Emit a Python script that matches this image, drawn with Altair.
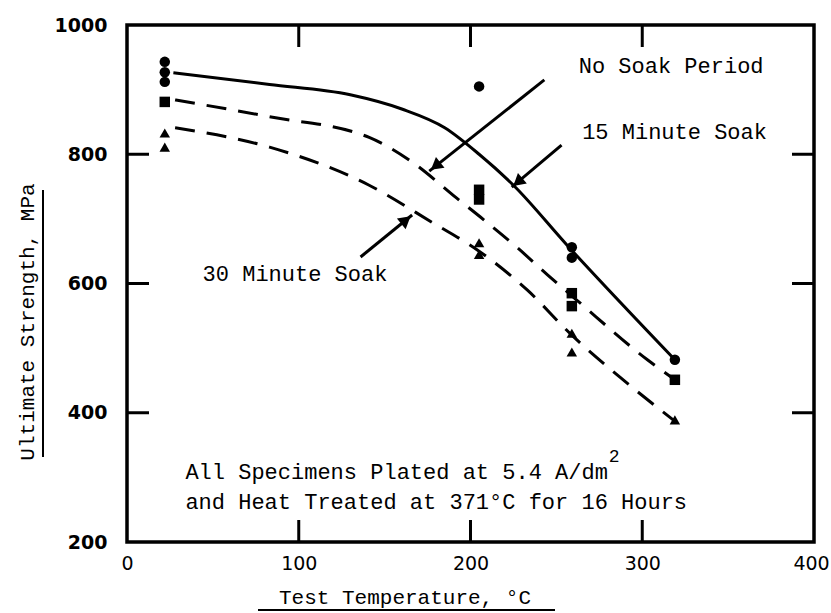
import math
import altair as alt
import pandas as pd

# ---- measured points (Test temperature °C, Ultimate strength MPa) ----
pt15_t = [22, 22, 22, 205, 259, 259, 319]
pt15_s = [943, 927, 912, 905, 656, 640, 482]
ptno_t = [22, 205, 205, 259, 259, 319]
ptno_s = [881, 745, 730, 585, 565, 451]
pt30_t = [22, 22, 205, 205, 259, 259, 319]
pt30_s = [833, 811, 663, 645, 523, 494, 389]

# ---- faired curves ----
c15_t = [27, 83, 130, 160, 185, 205, 225, 256, 319]
c15_s = [926, 908, 892, 870, 841, 800, 752, 660, 482]
cno_t = [28, 83, 141, 166, 192, 208, 227, 245, 262, 303, 319]
cno_s = [884, 858, 826, 788, 732, 698, 656, 613, 574, 482, 451]
c30_t = [28, 83, 141, 178, 205, 233, 259, 287, 318]
c30_s = [841, 811, 752, 694, 650, 590, 520, 455, 389]

# ---- annotations ----
label_text = ["No Soak Period", "15 Minute Soak", "30 Minute Soak"]
label_t = [263, 265, 44]
label_s = [937, 834, 615]
arrow_t1 = [243, 253, 136]
arrow_s1 = [915, 814, 641]
arrow_t2 = [176, 224, 166]
arrow_s2 = [774, 749, 706]

note_text = ["All Specimens Plated at 5.4 A/dm",
             "and Heat Treated at 371°C for 16 Hours"]
note_t = [34, 34]
note_s = [308, 262]
sup_text = ["2"]

x_ticks = [0, 100, 200, 300, 400]
y_ticks = [200, 400, 600, 800, 1000]
x_inner = [100, 200, 300]
y_inner = [400, 600, 800]

W, H = 687, 517
MONO = "Liberation Mono"
NOTE_FS = 22

xs = alt.Scale(domain=[0, 400], nice=False, zero=False)
ys = alt.Scale(domain=[200, 1000], nice=False, zero=False)
xaxis = alt.Axis(values=x_ticks, domain=False, ticks=False, grid=False, title=None,
                 labelFont="DejaVu Sans", labelFontSize=19, labelColor="black",
                 labelPadding=12, labelFlush=False, labelOverlap=False, labelBound=False,
                 labelOffset={"condition": {"test": "datum.value >= 400", "value": -3},
                              "value": 0})
yaxis = alt.Axis(values=y_ticks, domain=False, ticks=False, grid=False, title=None,
                 format="d",
                 labelFont="DejaVu Sans", labelFontWeight="bold", labelFontSize=19,
                 labelColor="black", labelPadding=20, labelOverlap=False,
                 labelBound=False)


def X(f="t"):
    return alt.X(f, type="quantitative", scale=xs, axis=xaxis)


def Y(f="s"):
    return alt.Y(f, type="quantitative", scale=ys, axis=yaxis)


pts = pd.DataFrame({
    "t": pt15_t + ptno_t + pt30_t,
    "s": pt15_s + ptno_s + pt30_s,
    "g": ["15"] * len(pt15_t) + ["no"] * len(ptno_t) + ["30"] * len(pt30_t),
})
solid = pd.DataFrame({"t": c15_t, "s": c15_s})
dashed = pd.DataFrame({
    "t": cno_t + c30_t,
    "s": cno_s + c30_s,
    "g": ["no"] * len(cno_t) + ["30"] * len(c30_t),
})

# arrow heads: direction in pixel space, head centre set back from the tip
kx, ky = W / 400.0, H / 800.0
angles, hx, hy = [], [], []
back = 8.0
for a, b, c, d in zip(arrow_t1, arrow_s1, arrow_t2, arrow_s2):
    dx = (c - a) * kx
    dy = -(d - b) * ky
    n = math.hypot(dx, dy)
    angles.append(math.degrees(math.atan2(dx, -dy)) % 360)
    hx.append(c - back * dx / n / kx)
    hy.append(d + back * dy / n / ky)
arrows = pd.DataFrame({"t1": arrow_t1, "s1": arrow_s1, "t2": arrow_t2,
                       "s2": arrow_s2})
heads = pd.DataFrame({"t": hx, "s": hy, "ang": angles})
labels = pd.DataFrame({"t": label_t, "s": label_s, "txt": label_text})
notes = pd.DataFrame({"t": note_t, "s": note_s, "txt": note_text})
# superscript "2" placed just after the monospaced first note line
char_w = NOTE_FS * 0.6
sup = pd.DataFrame({"t": [note_t[0] + len(note_text[0]) * char_w / kx],
                    "s": [note_s[0]], "txt": sup_text})

tick_len = 22
xt = pd.DataFrame({"t": x_inner})
yt = pd.DataFrame({"s": y_inner})
ticks = alt.layer(
    alt.Chart(xt).mark_rule(color="black", strokeWidth=3).encode(
        x=X(), y=alt.value(H), y2=alt.value(H - tick_len)),
    alt.Chart(xt).mark_rule(color="black", strokeWidth=3).encode(
        x=X(), y=alt.value(0), y2=alt.value(tick_len)),
    alt.Chart(yt).mark_rule(color="black", strokeWidth=3).encode(
        y=Y(), x=alt.value(0), x2=alt.value(tick_len)),
    alt.Chart(yt).mark_rule(color="black", strokeWidth=3).encode(
        y=Y(), x=alt.value(W), x2=alt.value(W - tick_len)),
)

solid_line = alt.Chart(solid).mark_line(
    color="black", strokeWidth=3, interpolate="monotone").encode(x=X(), y=Y())
dashed_line = alt.Chart(dashed).mark_line(
    color="black", strokeWidth=3, interpolate="monotone",
    strokeDash=[20, 12]).encode(x=X(), y=Y(), detail="g:N")

points = alt.Chart(pts).mark_point(filled=True, color="black", opacity=1, size=110).encode(
    x=X(), y=Y(),
    shape=alt.Shape("g:N", scale=alt.Scale(domain=["15", "no", "30"],
                                           range=["circle", "square", "triangle-up"]),
                    legend=None),
)

arrow_lines = alt.Chart(arrows).mark_rule(color="black", strokeWidth=3).encode(
    x=X("t1"), y=Y("s1"), x2="t2:Q", y2="s2:Q")
arrow_heads = alt.Chart(heads).mark_point(
    shape="triangle-up", filled=True, color="black", opacity=1, size=190
).encode(x=X(), y=Y(), angle=alt.Angle("ang:Q", scale=None))

label_marks = alt.Chart(labels).mark_text(
    font=MONO, fontSize=22, align="left", baseline="middle", color="black").encode(
    x=X(), y=Y(), text="txt:N")
note_marks = alt.Chart(notes).mark_text(
    font=MONO, fontSize=NOTE_FS, align="left", baseline="middle", color="black").encode(
    x=X(), y=Y(), text="txt:N")
sup_marks = alt.Chart(sup).mark_text(
    font=MONO, fontSize=18, align="left", baseline="middle", color="black",
    dx=1, dy=-15).encode(x=X(), y=Y(), text="txt:N")

one = pd.DataFrame({"k": [0]})
titles = alt.layer(
    alt.Chart(one).mark_text(font=MONO, fontSize=21, color="black", align="center",
                             baseline="middle", text="Test Temperature, °C").encode(
        x=alt.value(278), y=alt.value(H + 56)),
    alt.Chart(one).mark_rule(color="black", strokeWidth=2).encode(
        x=alt.value(131), x2=alt.value(428), y=alt.value(H + 68)),
    alt.Chart(one).mark_text(font=MONO, fontSize=21, color="black", align="center",
                             baseline="middle", angle=270,
                             text="Ultimate Strength, MPa").encode(
        x=alt.value(-99), y=alt.value(297)),
    alt.Chart(one).mark_rule(color="black", strokeWidth=2).encode(
        x=alt.value(-84), y=alt.value(165), y2=alt.value(432)),
)

chart = alt.layer(
    ticks, solid_line, dashed_line, points, arrow_lines, arrow_heads,
    label_marks, note_marks, sup_marks, titles,
).properties(
    width=W, height=H,
    padding={"left": 127, "top": 25, "right": 17, "bottom": 71},
    autosize=alt.AutoSizeParams(type="none"),
    background="white",
).configure_view(stroke="black", strokeWidth=3.5)

chart.save("out.html", embed_options={"renderer": "svg", "actions": False})
